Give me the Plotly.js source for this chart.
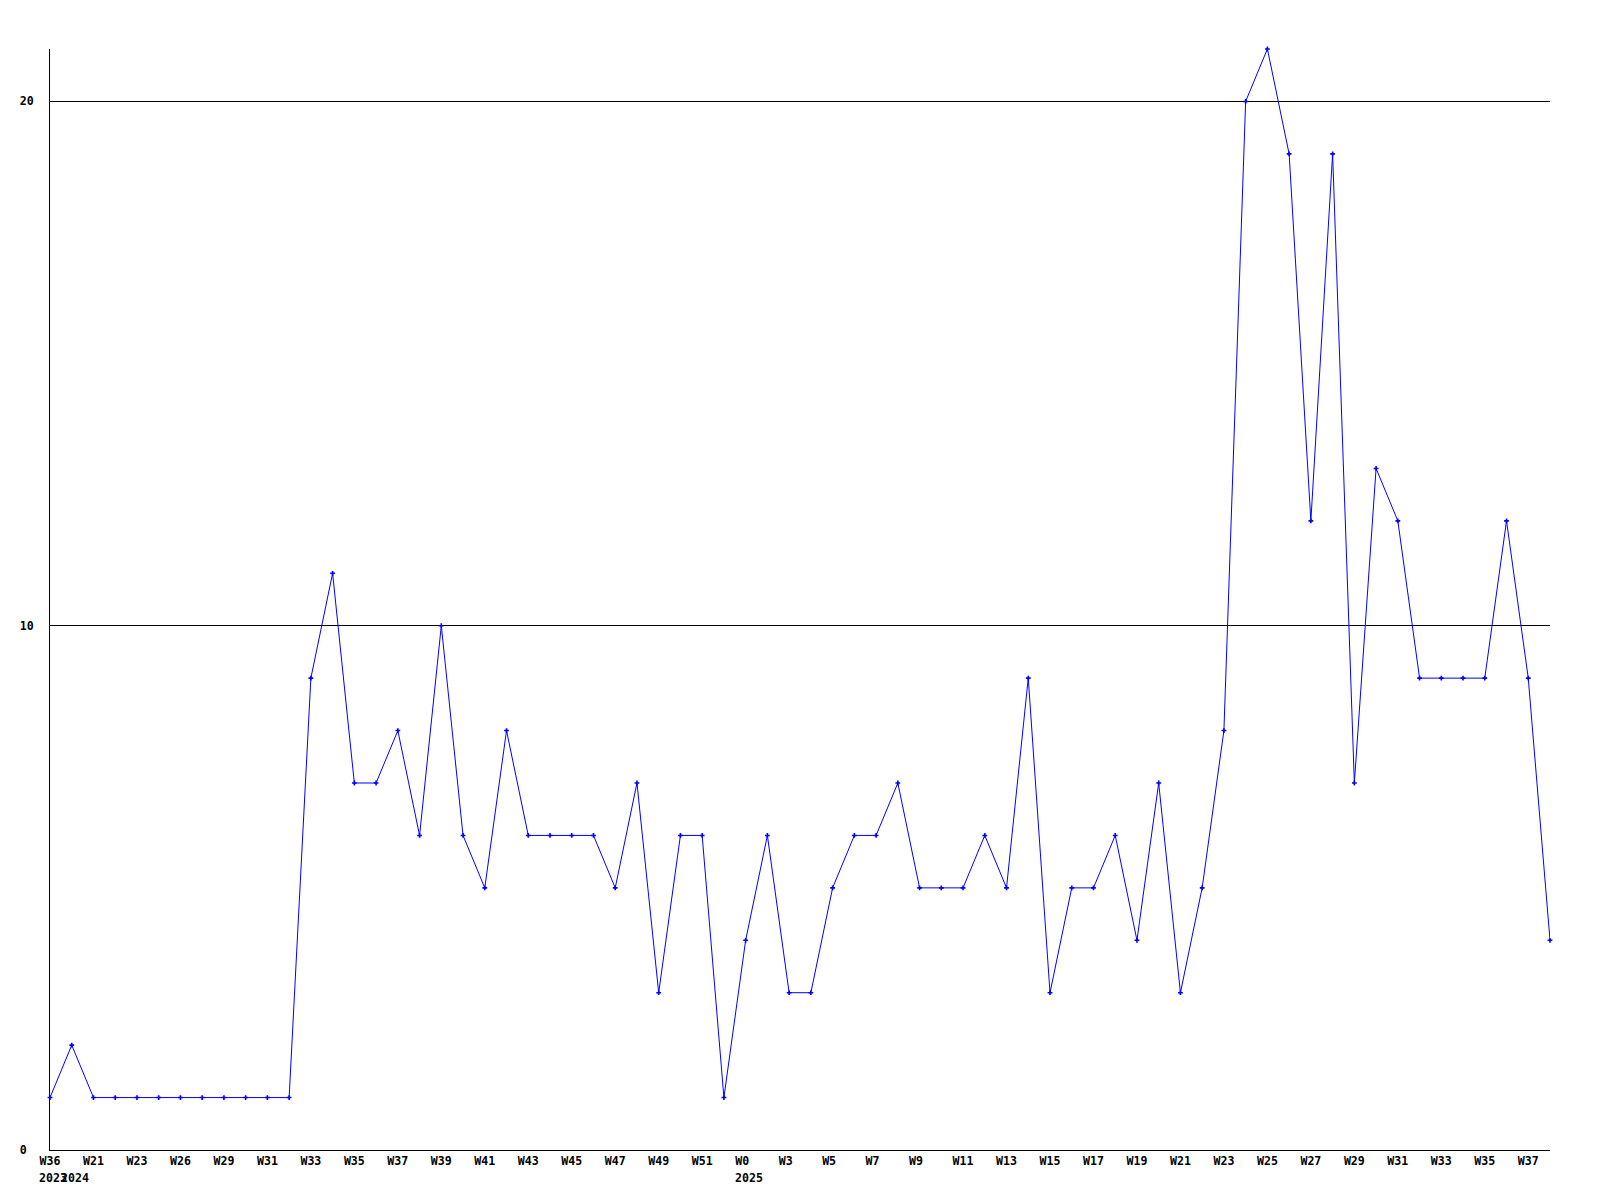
<!DOCTYPE html>
<html><head><meta charset="utf-8">
<script src="https://cdn.plot.ly/plotly-3.0.1.min.js"></script>
<style>html,body{margin:0;padding:0;background:#fff}</style>
</head><body>
<div id="chart" style="width:1600px;height:1200px"></div>
<script>
// Week labels for each data point (one point per week with data)
const weeks = ["W36","W20","W21","W22","W23","W25","W26","W28","W29","W30",
  "W31","W32","W33","W34","W35","W36","W37","W38","W39","W40",
  "W41","W42","W43","W44","W45","W46","W47","W48","W49","W50",
  "W51","W52","W0","W2","W3","W4","W5","W6","W7","W8",
  "W9","W10","W11","W12","W13","W14","W15","W16","W17","W18",
  "W19","W20","W21","W22","W23","W24","W25","W26","W27","W28",
  "W29","W30","W31","W32","W33","W34","W35","W36","W37","W38"];
const years = [2023,
  2024,2024,2024,2024,2024,2024,2024,2024,2024,2024,
  2024,2024,2024,2024,2024,2024,2024,2024,2024,2024,
  2024,2024,2024,2024,2024,2024,2024,2024,2024,2024,
  2024,
  2025,2025,2025,2025,2025,2025,2025,2025,2025,2025,
  2025,2025,2025,2025,2025,2025,2025,2025,2025,2025,
  2025,2025,2025,2025,2025,2025,2025,2025,2025,2025,
  2025,2025,2025,2025,2025,2025,2025,2025];
const counts = [1,2,1,1,1,1,1,1,1,1,1,1,9,11,7,7,8,6,10,6,
  5,8,6,6,6,6,5,7,3,6,6,1,4,6,3,3,5,6,6,7,
  5,5,5,6,5,9,3,5,5,6,4,7,3,5,8,20,21,19,12,19,
  7,13,12,9,9,9,9,12,9,4];
const yTicks = [0,10,20];
const yTickText = ["0\u00a0","10","20"];

const idx = weeks.map((_, i) => i);
const tickvals = idx.filter(i => i % 2 === 0);
const ticktext = tickvals.map(i => (weeks[i] + "\u00a0\u00a0\u00a0").slice(0,3));

const fontFam = "DejaVu Sans Mono";
const annotations = [];
years.forEach((y, i) => {
  if (i === 0 || years[i-1] !== y) {
    annotations.push({
      x: i, xref: 'x', y: 0, yref: 'paper', yanchor: 'top', xanchor: 'left',
      xshift: -13, yshift: -19, showarrow: false, text: String(y),
      font: {family: fontFam, size: 11.6, color: '#000', weight: 'bold'}
    });
  }
});

const trace = {
  x: idx, y: counts, type: 'scatter', mode: 'lines+markers',
  line: {color: '#0000ff', width: 1},
  marker: {color: '#0000ff', symbol: 'cross', size: 4},
  cliponaxis: false, hoverinfo: 'skip'
};

const layout = {
  width: 1600, height: 1200,
  margin: {l: 50, r: 50, t: 49, b: 50},
  paper_bgcolor: '#fff', plot_bgcolor: '#fff',
  showlegend: false,
  xaxis: {
    range: [0, 69], showline: true, linecolor: '#000', linewidth: 1,
    showgrid: false, zeroline: false, ticks: '',
    tickmode: 'array', tickvals: tickvals, ticktext: ticktext,
    tickangle: 0,
    tickfont: {family: fontFam, size: 11.6, color: '#000', weight: 'bold'}
  },
  yaxis: {
    range: [0, 21], showline: true, linecolor: '#000', linewidth: 1,
    showgrid: true, gridcolor: '#000', gridwidth: 1, zeroline: false, ticks: '',
    tickmode: 'array', tickvals: yTicks, ticktext: yTickText,
    ticklabelstandoff: 13,
    tickfont: {family: fontFam, size: 11.6, color: '#000', weight: 'bold'}
  },
  annotations: annotations
};

Plotly.newPlot('chart', [trace], layout, {staticPlot: true, displayModeBar: false});
</script>
</body></html>
